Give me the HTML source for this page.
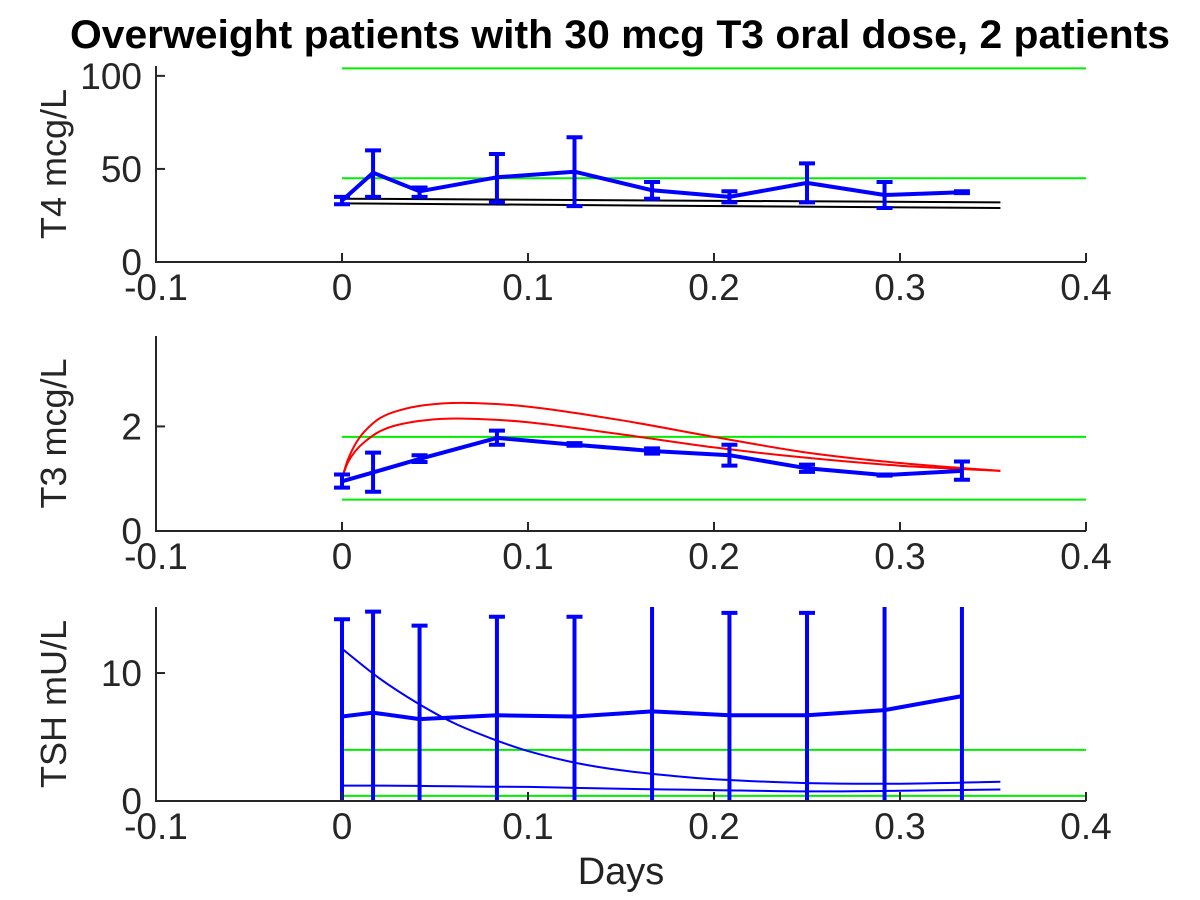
<!DOCTYPE html>
<html><head><meta charset="utf-8"><style>
body{margin:0;background:#fff}
svg{display:block;font-family:"Liberation Sans",Arial,sans-serif}
</style></head><body>
<svg id="c" width="1200" height="900" viewBox="0 0 1200 900">
<text x="620" y="48" text-anchor="middle" font-size="40" font-weight="bold" fill="#000" textLength="1100" lengthAdjust="spacingAndGlyphs">Overweight patients with 30 mcg T3 oral dose, 2 patients</text>
<text x="621" y="884" text-anchor="middle" font-size="38" fill="#222">Days</text>
</svg>
<script>
const xTicks=[-0.1,0,0.1,0.2,0.3,0.4];
const times=[0,0.0167,0.0417,0.0833,0.125,0.1667,0.2083,0.25,0.2917,0.3333];
const t4Mean=[33,48,38,45.5,48.5,38.5,35,42.5,36,37.5];
const t4Lo=[31,35,35,32,30,34,32,32,29,37];
const t4Hi=[35,60,40,58,67,43,38,53,43,38];
const t4RefLines=[104,45];
const t4ModelX=[0,0.354];
const t4ModelA=[34,32];
const t4ModelB=[31.5,29];
const t3Mean=[0.95,1.12,1.38,1.78,1.65,1.53,1.45,1.2,1.07,1.15];
const t3Lo=[0.83,0.75,1.32,1.65,1.63,1.48,1.25,1.13,1.06,0.98];
const t3Hi=[1.08,1.5,1.45,1.92,1.68,1.58,1.65,1.27,1.08,1.33];
const t3RefLines=[1.8,0.6];
const t3ModelX=[0,0.003,0.007,0.012,0.02,0.03,0.045,0.065,0.1,0.15,0.2,0.25,0.3,0.354];
const t3ModelA=[1.0,1.35,1.65,1.9,2.15,2.3,2.41,2.45,2.38,2.12,1.8,1.5,1.3,1.15];
const t3ModelB=[1.0,1.3,1.52,1.7,1.9,2.03,2.12,2.15,2.08,1.85,1.6,1.4,1.25,1.15];
const tshMean=[6.6,6.9,6.4,6.7,6.6,7.0,6.7,6.7,7.1,8.2];
const tshLo=[-1,-1,-1,-1,-1,-1,-1,-1,-1,-1];
const tshHi=[14.2,14.8,13.7,14.4,14.4,16,14.7,14.7,16,16];
const tshRefLines=[4,0.4];
const tshModelX=[0,0.02,0.04,0.06,0.08,0.1,0.125,0.15,0.175,0.2,0.25,0.3,0.354];
const tshModelA=[11.9,9.6,7.7,6.1,4.9,3.9,3.0,2.4,2.0,1.7,1.4,1.35,1.5];
const tshModelB=[1.2,1.2,1.18,1.15,1.12,1.1,1.02,0.95,0.9,0.85,0.75,0.8,0.9];

const NS="http://www.w3.org/2000/svg";
const svg=document.getElementById('c');
function mk(tag,attrs,parent){const e=document.createElementNS(NS,tag);for(const k in attrs)e.setAttribute(k,attrs[k]);(parent||svg).appendChild(e);return e;}
const X0=156,X1=1086,xmin=-0.1,xmax=0.4;
const sx=v=>X0+(v-xmin)/(xmax-xmin)*(X1-X0);
function smooth(pts){
 if(pts.length<3)return pts.map((p,i)=>(i?'L':'M')+p[0].toFixed(1)+','+p[1].toFixed(1)).join('');
 let d='M'+pts[0][0].toFixed(1)+','+pts[0][1].toFixed(1);
 for(let i=0;i<pts.length-1;i++){
  const p0=pts[Math.max(0,i-1)],p1=pts[i],p2=pts[i+1],p3=pts[Math.min(pts.length-1,i+2)];
  const c1=[p1[0]+(p2[0]-p0[0])/6,p1[1]+(p2[1]-p0[1])/6];
  const c2=[p2[0]-(p3[0]-p1[0])/6,p2[1]-(p3[1]-p1[1])/6];
  d+=`C${c1[0].toFixed(1)},${c1[1].toFixed(1)} ${c2[0].toFixed(1)},${c2[1].toFixed(1)} ${p2[0].toFixed(1)},${p2[1].toFixed(1)}`;
 }
 return d;
}

const panels=[
 {name:'t4',label:'T4 mcg/L',top:66,bot:262,ymax:105.3,yticks:[0,50,100],mean:t4Mean,lo:t4Lo,hi:t4Hi,ref:t4RefLines,mx:[t4ModelX,t4ModelX],my:[t4ModelA,t4ModelB],mc:'#000',mw:2,lw:4},
 {name:'t3',label:'T3 mcg/L',top:336,bot:531,ymax:3.73,yticks:[0,2],mean:t3Mean,lo:t3Lo,hi:t3Hi,ref:t3RefLines,mx:[t3ModelX,t3ModelX],my:[t3ModelA,t3ModelB],mc:'#f00',mw:2,lw:4},
 {name:'tsh',label:'TSH mU/L',top:607,bot:801,ymax:15.16,yticks:[0,10],mean:tshMean,lo:tshLo,hi:tshHi,ref:tshRefLines,mx:[tshModelX,tshModelX],my:[tshModelA,tshModelB],mc:'#00f',mw:2,lw:4}
];
panels.forEach(p=>{
 const sy=v=>p.bot-(v/p.ymax)*(p.bot-p.top);
 const g=mk('g',{});
 
 
 const cid='clip-'+p.name;
 const cp=mk('clipPath',{id:cid},g);mk('rect',{x:X0,y:p.top,width:X1-X0,height:p.bot-p.top},cp);
 const pg=mk('g',{'clip-path':'url(#'+cid+')'},g);
 p.ref.forEach(r=>{const l=mk('line',{x1:sx(0),x2:sx(0.4),y1:sy(r),y2:sy(r),stroke:'#00ee00','stroke-width':2},pg);
  
  });
 p.mx.forEach((xs,i)=>{const ys=p.my[i];
  const d=smooth(xs.map((x,j)=>[sx(x),sy(ys[j])]));
  const l=mk('path',{d:d,fill:'none',stroke:p.mc,'stroke-width':p.mw,'stroke-linejoin':'round'},pg);
  
  });
 times.forEach((t,i)=>{const x=sx(t);
  const e=mk('path',{d:`M${x},${sy(p.lo[i])}L${x},${sy(p.hi[i])}M${x-8},${sy(p.lo[i])}L${x+8},${sy(p.lo[i])}M${x-8},${sy(p.hi[i])}L${x+8},${sy(p.hi[i])}`,stroke:'#00f','stroke-width':4,fill:'none'},pg);
  
  });
 const d=times.map((t,j)=>(j?'L':'M')+sx(t).toFixed(1)+','+sy(p.mean[j]).toFixed(1)).join('');
 const ml=mk('path',{d:d,fill:'none',stroke:'#00f','stroke-width':p.lw,'stroke-linejoin':'round'},pg);
 
 
 const ax=mk('path',{d:`M${X0},${p.top}L${X0},${p.bot}L${X1},${p.bot}`,fill:'none',stroke:'#262626','stroke-width':2},g);
 
 
 xTicks.forEach(v=>{const x=sx(v);
  mk('line',{x1:x,x2:x,y1:p.bot,y2:p.bot-9,stroke:'#262626','stroke-width':2},g);
  const t=mk('text',{x:x,y:p.bot+38,'text-anchor':'middle','font-size':37,fill:'#262626'},g);t.textContent=String(v);
  
  });
 p.yticks.forEach(v=>{const y=sy(v);
  mk('line',{x1:X0,x2:X0+9,y1:y,y2:y,stroke:'#262626','stroke-width':2},g);
  const t=mk('text',{x:X0-14,y:y+13,'text-anchor':'end','font-size':37,fill:'#262626'},g);t.textContent=String(v);
  
  });
 const cy=(p.top+p.bot)/2;
 const yl=mk('text',{x:0,y:0,transform:`translate(66,${cy}) rotate(-90)`,'text-anchor':'middle','font-size':36,fill:'#262626'},g);
 yl.textContent=p.label;
 
 
});
</script>
</body></html>
